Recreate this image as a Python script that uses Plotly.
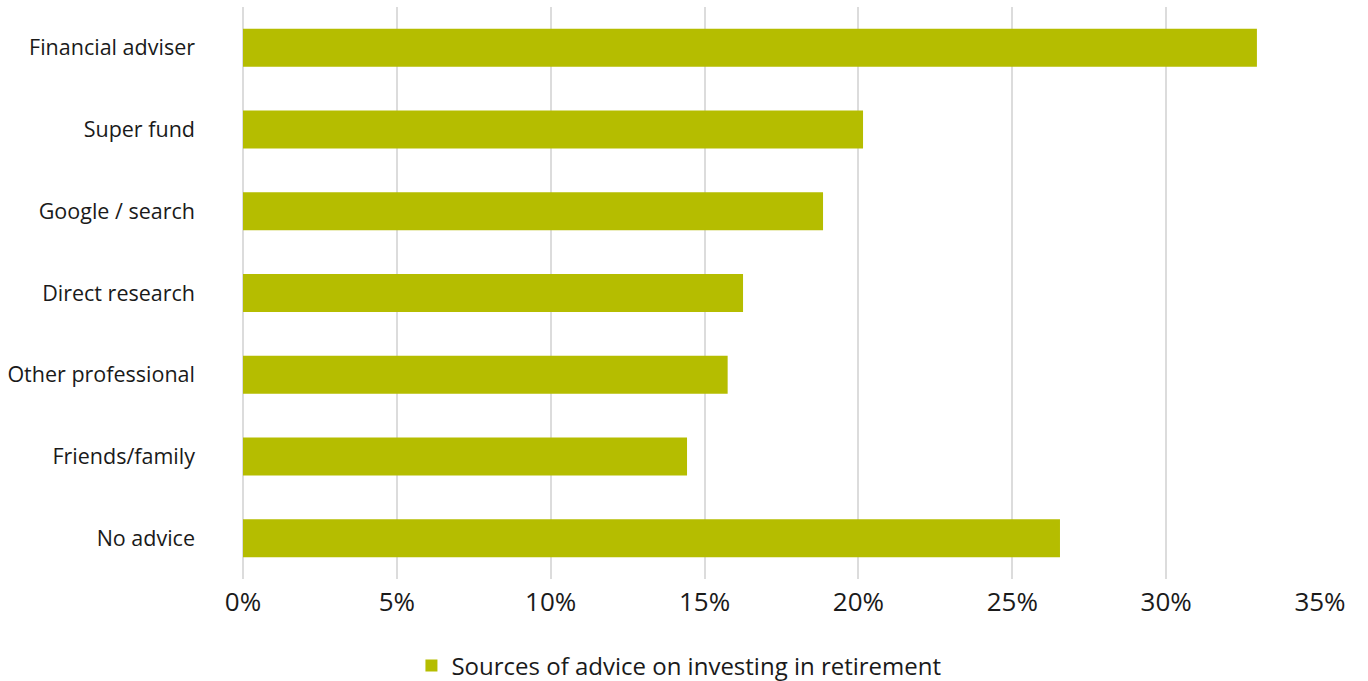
import plotly.graph_objects as go

categories = ["Financial adviser", "Super fund", "Google / search", "Direct research",
              "Other professional", "Friends/family", "No advice"]
values = [32.95, 20.15, 18.85, 16.25, 15.75, 14.43, 26.55]
series_name = "Sources of advice on investing in retirement"
tick_vals = [0, 5, 10, 15, 20, 25, 30, 35]
tick_text = ["0%", "5%", "10%", "15%", "20%", "25%", "30%", "35%"]

fig = go.Figure()
fig.add_trace(go.Bar(
    x=values, y=categories, orientation="h", name=series_name,
    marker=dict(color="#B5BD00", line=dict(width=0)),
    showlegend=True,
))

fig.update_layout(
    width=1368, height=681,
    margin=dict(l=243, r=48, t=7, b=102),
    paper_bgcolor="white", plot_bgcolor="white",
    font=dict(family="Open Sans", size=21.5, color="#1a1a1a"),
    bargap=0.535,
    showlegend=True,
    legend=dict(orientation="h", xref="container", yref="container",
                x=0.4963, xanchor="center", y=0.022, yanchor="middle",
                font=dict(size=24)),
    xaxis=dict(range=[0, 35], tickvals=tick_vals, ticktext=tick_text,
               showgrid=True, gridcolor="#dcdcdc", gridwidth=2,
               zeroline=True, zerolinecolor="#dcdcdc", zerolinewidth=2,
               showline=False, ticks="", tickfont=dict(size=26),
               ticklabelstandoff=5),
    yaxis=dict(autorange="reversed", showgrid=False, showline=False,
               ticks="", ticklabelstandoff=47),
)

fig.write_html("out.html")
